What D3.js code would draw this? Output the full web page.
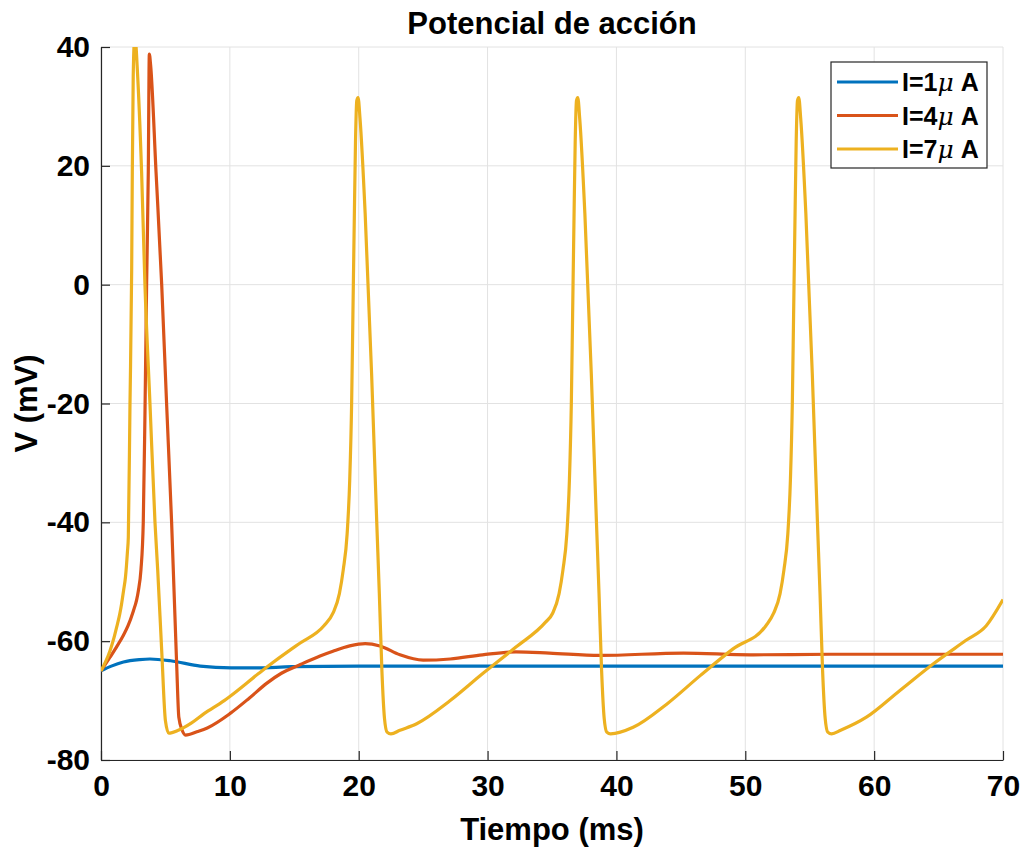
<!doctype html>
<html>
<head>
<meta charset="utf-8">
<script src="https://d3js.org/d3.v7.min.js"></script>
<style>
  body { margin: 0; background: #fff; }
  svg text { font-family: "Liberation Sans", Arial, sans-serif; font-weight: bold; fill: #000; }
</style>
</head>
<body>
<div id="chart"></div>
<script>
// values (time in ms, V in mV)
const seriesNames = ["I=1", "I=4", "I=7"];
const seriesColors = ["#0072BD", "#D95319", "#EDB120"];
const xTicks = [0, 10, 20, 30, 40, 50, 60, 70];
const yTicks = [-80, -60, -40, -20, 0, 20, 40];

const t1 = [0, 0.8, 1.74, 3.0, 3.8, 5.4, 7.7, 10.1, 12, 14.8, 20, 30, 40, 50, 60, 70];
const v1 = [-65, -64.2, -63.5, -63.1, -63.0, -63.3, -64.2, -64.5, -64.5, -64.3, -64.2, -64.2, -64.2, -64.2, -64.2, -64.2];

const t4 = [0, 0.7, 1.2, 1.74, 2.1, 2.5, 2.77, 2.9, 3.1, 3.28, 3.41, 3.54, 3.67, 3.75, 3.85, 4.27, 4.71, 5.09, 5.48, 5.87, 6.04, 6.3, 6.56,
            7.5, 8.25, 10, 11.5, 12.85, 14, 15.4, 17, 18.0, 19.3, 20.5, 21.65, 23.2, 25.0, 27.1, 29.6, 32.2, 34.8, 38.7, 45.2, 50.4, 56.8, 70];
const v4 = [-65, -62.7, -61, -59, -57.4, -55, -53, -51.5, -48, -40, -22, 0, 19, 38.8, 37, 19, 0, -20, -40, -63.8, -72.8, -75, -75.8,
            -75.2, -74.6, -72.2, -69.6, -67.1, -65.4, -64.0, -62.5, -61.7, -60.8, -60.4, -60.8, -62.3, -63.2, -63.0, -62.3, -61.8, -62.0, -62.4, -62.0, -62.3, -62.2, -62.2];

const t7 = [0, 0.35, 0.7, 1.0, 1.22, 1.45, 1.6, 1.75, 1.9, 2.05, 2.12, 2.25, 2.38, 2.43, 2.5, 2.6, 2.7, 2.8, 3.15, 3.41, 3.8, 4.19, 4.4, 4.72, 5.0, 5.26, 6.0,
            7.0, 8.0, 9.56, 10, 12.2, 12.85, 14.8, 15.4, 17.3,
            18.0, 18.5, 18.8, 19.1, 19.3, 19.45, 19.55, 19.65, 19.75, 19.85, 19.95, 20.1, 20.5, 21.0, 21.4, 21.6, 21.8, 22.0, 22.2, 22.5,
            23.2, 24.5, 27.1, 29.6, 32.2, 34.5,
            35.05, 35.55, 35.85, 36.15, 36.35, 36.5, 36.6, 36.7, 36.8, 36.9, 37.0, 37.15, 37.55, 38.05, 38.45, 38.65, 38.85, 39.05, 39.25, 39.55,
            41.3, 43.9, 46.5, 49.05, 51.6,
            52.2, 52.7, 53.0, 53.3, 53.5, 53.65, 53.75, 53.85, 53.95, 54.05, 54.15, 54.3, 54.7, 55.2, 55.6, 55.8, 56.0, 56.2, 56.4, 56.7,
            57.4, 59.4, 62.0, 64.6, 67.1, 68.7, 70];
const v7 = [-65, -63.5, -61.6, -59.5, -57.6, -55.5, -53.7, -51.5, -49.2, -45, -42.5, -20, 2.4, 19, 35, 41, 40.5, 37, 19, 0, -20, -40, -48, -62, -73.4, -75.5, -75.0,
            -73.8, -72.2, -70, -69.3, -65.5, -64.4, -61.3, -60.4, -57.4,
            -55.3, -52, -48, -42, -33, -20, -5, 10, 24, 31, 31.5, 28, 12, -15, -40, -52, -65, -73, -75.3, -75.6,
            -75, -73.9, -70, -65.5, -61, -56.8,
            -55.3, -52, -48, -42, -33, -20, -5, 10, 24, 31, 31.5, 28, 12, -15, -40, -52, -65, -73, -75.3, -75.6,
            -74.5, -70.6, -65.8, -61.3, -57.4,
            -55.3, -52, -48, -42, -33, -20, -5, 10, 24, 31, 31.5, 28, 12, -15, -40, -52, -65, -73, -75.3, -75.6,
            -75, -72.8, -68.3, -63.8, -59.9, -57.4, -53];

const W = 1023, H = 849;
const mLeft = 101, mRight = 1003, mTop = 47, mBottom = 760;

const svg = d3.select('#chart').append('svg')
  .attr('width', W).attr('height', H);

const x = d3.scaleLinear().domain([0, 70]).range([mLeft, mRight]);
const y = d3.scaleLinear().domain([-80, 40]).range([mBottom, mTop]);

// grid
svg.append('g')
  .selectAll('line')
  .data(xTicks)
  .join('line')
  .attr('x1', d => x(d)).attr('x2', d => x(d))
  .attr('y1', mTop).attr('y2', mBottom)
  .attr('stroke', '#e2e2e2').attr('stroke-width', 1);
svg.append('g')
  .selectAll('line')
  .data(yTicks)
  .join('line')
  .attr('x1', mLeft).attr('x2', mRight)
  .attr('y1', d => y(d)).attr('y2', d => y(d))
  .attr('stroke', '#e2e2e2').attr('stroke-width', 1);

// axes, ticks pointing inwards, plain hyphen for negatives
const fmt = d => String(d);
const xAxis = svg.append('g')
  .attr('transform', `translate(0,${mBottom})`)
  .call(d3.axisBottom(x).tickValues(xTicks).tickFormat(fmt).tickSizeInner(-9).tickSizeOuter(0).tickPadding(15));
const yAxis = svg.append('g')
  .attr('transform', `translate(${mLeft},0)`)
  .call(d3.axisLeft(y).tickValues(yTicks).tickFormat(fmt).tickSizeInner(-9).tickSizeOuter(0).tickPadding(11));

[xAxis, yAxis].forEach(a => {
  a.select('.domain').attr('stroke', '#262626').attr('stroke-width', 1.2);
  a.selectAll('.tick line').attr('stroke', '#262626').attr('stroke-width', 1.2);
  a.selectAll('.tick text')
    .style('font-size', '30px')
    .style('font-family', '"Liberation Sans", Arial, sans-serif')
    .style('font-weight', 'bold')
    .attr('fill', '#262626');
});
xAxis.selectAll('.tick text').attr('dy', '0.71em');

// lines
svg.append('clipPath').attr('id', 'clip')
  .append('rect')
  .attr('x', mLeft).attr('y', mTop).attr('width', mRight - mLeft).attr('height', mBottom - mTop);

const series = [
  t1.map((t, i) => [t, v1[i]]),
  t4.map((t, i) => [t, v4[i]]),
  t7.map((t, i) => [t, v7[i]])
];

const line = d3.line()
  .x(d => x(d[0]))
  .y(d => y(d[1]))
  .curve(d3.curveMonotoneX);

svg.append('g').attr('clip-path', 'url(#clip)')
  .selectAll('path')
  .data(series)
  .join('path')
  .attr('d', line)
  .attr('fill', 'none')
  .attr('stroke', (d, i) => seriesColors[i])
  .attr('stroke-width', 3.2)
  .attr('stroke-linejoin', 'round');

// title and labels
svg.append('text')
  .attr('x', (mLeft + mRight) / 2).attr('y', 34)
  .attr('text-anchor', 'middle')
  .style('font-size', '31px')
  .text('Potencial de acción');

svg.append('text')
  .attr('x', (mLeft + mRight) / 2).attr('y', 840)
  .attr('text-anchor', 'middle')
  .style('font-size', '31px')
  .attr('fill', '#262626')
  .text('Tiempo (ms)');

svg.append('text')
  .attr('transform', `translate(37,${(mTop + mBottom) / 2}) rotate(-90)`)
  .attr('text-anchor', 'middle')
  .style('font-size', '31px')
  .attr('fill', '#262626')
  .text('V (mV)');

// legend
const legend = svg.append('g');
legend.append('rect')
  .attr('x', 831).attr('y', 62).attr('width', 156).attr('height', 106)
  .attr('fill', '#fff').attr('stroke', '#262626').attr('stroke-width', 1.2);

const rows = legend.selectAll('g')
  .data(seriesNames)
  .join('g')
  .attr('transform', (d, i) => `translate(0,${82 + i * 33.5})`);
rows.append('line')
  .attr('x1', 837).attr('x2', 898)
  .attr('stroke', (d, i) => seriesColors[i])
  .attr('stroke-width', 3.2);
const lt = rows.append('text')
  .attr('x', 902).attr('dy', '0.36em')
  .style('font-size', '25px');
lt.append('tspan').text(d => d);
lt.append('tspan')
  .style('font-family', '"DejaVu Serif", "Liberation Serif", serif')
  .style('font-style', 'italic')
  .style('font-weight', 'normal')
  .text('μ');
lt.append('tspan').text(' A');
</script>
</body>
</html>
